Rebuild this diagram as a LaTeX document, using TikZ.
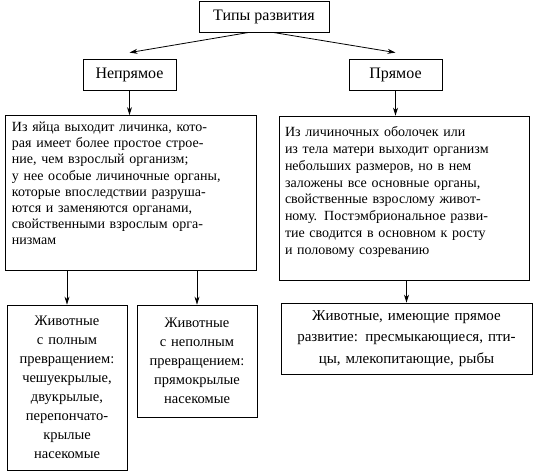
\documentclass[tikz,border=0pt]{standalone}
\usepackage{fontspec}
\setmainfont{Liberation Serif}
\usetikzlibrary{arrows.meta}
\newcommand{\lift}[1]{\rule[-#1]{0pt}{0pt}}
\tikzset{
  box/.style={draw, line width=0.8pt, inner sep=0pt, font=\fontsize{14}{16.2}\selectfont},
  title/.style={box, minimum height=31pt, font=\fontsize{16}{18}\selectfont},
  arr/.style={-{Stealth[length=8pt,width=5pt]}, line width=0.8pt}
}
\begin{document}
\begin{tikzpicture}[x=1pt,y=-1pt]
\fill[white] (0,0) rectangle (536,475);
\useasboundingbox (0,0) rectangle (536,475);
\node[title, minimum width=130pt] (types) at (264,16.5) {Типы развития};
\node[title, minimum width=93pt] (indirect) at (129.5,74.5) {Непрямое};
\node[title, minimum width=93pt] (direct) at (395.5,74.5) {Прямое};
\node[box, minimum width=251pt, minimum height=155pt, text width=237pt, align=left] (indtext) at (130.5,193)
  {Из яйца выходит личинка, кото-\\рая имеет более простое строе-\\ние, чем взрослый организм;\\у нее особые личиночные органы,\\которые впоследствии разруша-\\ются и заменяются органами,\\свойственными взрослым орга-\\низмам\lift{19pt}};
\node[box, minimum width=250pt, minimum height=164pt, text width=238pt, align=left, font=\fontsize{14}{16.9}\selectfont] (dirtext) at (404,198)
  {Из личиночных оболочек или\\из тела матери выходит организм\\небольших размеров, но в нем\\заложены все основные органы,\\свойственные взрослому живот-\\ному. Постэмбриональное разви-\\тие сводится в основном к росту\\и половому созреванию\lift{15pt}};
\node[box, minimum width=120pt, minimum height=165pt, text width=116pt, align=center, font=\fontsize{14.5}{19}\selectfont] (complete) at (67,387.5)
  {Животные\\с полным\\превращением:\\чешуекрылые,\\двукрылые,\\перепончато-\\крылые\\насекомые};
\node[box, minimum width=120pt, minimum height=112pt, text width=116pt, align=center, font=\fontsize{14.5}{19}\selectfont] (incomplete) at (197,361)
  {Животные\\с неполным\\превращением:\\прямокрылые\\насекомые};
\node[box, minimum width=251pt, minimum height=71pt, text width=245pt, align=center, font=\fontsize{15}{21.5}\selectfont] (diranimals) at (406.5,338.5)
  {Животные, имеющие прямое\\развитие: пресмыкающиеся, пти-\\цы, млекопитающие, рыбы};
\draw[arr] ([xshift=-15pt]types.south) -- ([yshift=6pt]indirect.north);
\draw[arr] ([xshift=9pt]types.south) -- ([yshift=6pt]direct.north);
\draw[arr] (indirect.south) -- (indirect.south |- indtext.north);
\draw[arr] (direct.south) -- (direct.south |- dirtext.north);
\draw[arr] (complete.north |- indtext.south) -- (complete.north);
\draw[arr] (incomplete.north |- indtext.south) -- (incomplete.north);
\draw[arr] (diranimals.north |- dirtext.south) -- (diranimals.north);
\end{tikzpicture}
\end{document}
